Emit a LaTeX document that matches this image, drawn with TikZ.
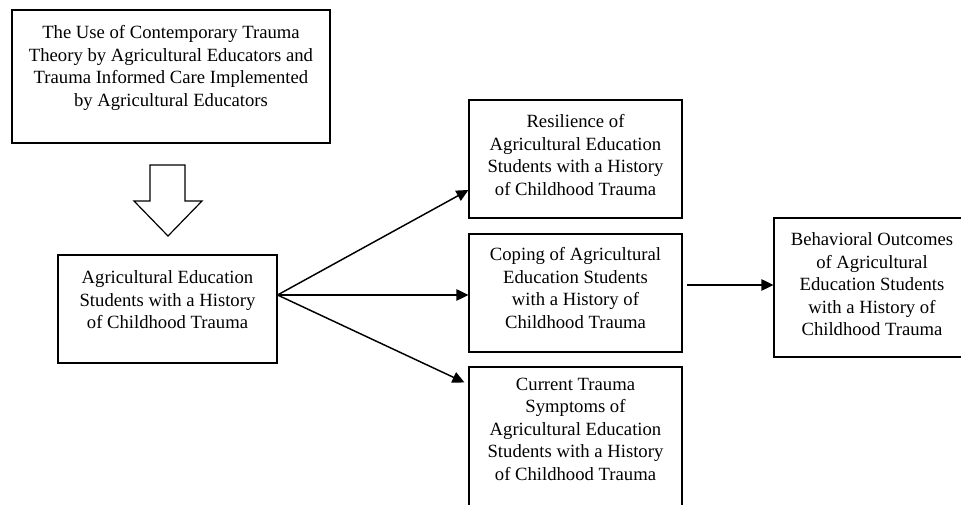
\documentclass[tikz,border=0pt]{standalone}
\usepackage{fontspec}
\setmainfont{Liberation Serif}
\usetikzlibrary{calc,arrows.meta}
\begin{document}
\begin{tikzpicture}[x=0.75pt,y=-0.75pt,
  boxnode/.style={draw, line width=0.8pt, inner sep=0pt, rectangle},
  txt/.style={anchor=north, inner sep=0pt, align=center, font=\fontsize{14}{16.9}\selectfont},
  conn/.style={line width=1.1pt, -{Triangle[length=9pt,width=8.5pt]}}]
\useasboundingbox (0,0) rectangle (961,505);
\clip (0,0) rectangle (961,505);
% boxes
\node[boxnode, minimum width=238.5pt, minimum height=99.75pt] (b1) at (171,76.5) {};
\node[boxnode, minimum width=164.25pt, minimum height=81pt] (b2) at (167.5,309) {};
\node[boxnode, minimum width=159.75pt, minimum height=88.5pt] (b3) at (575.5,159) {};
\node[boxnode, minimum width=159.75pt, minimum height=88.5pt] (b4) at (575.5,293) {};
\node[boxnode, minimum width=159.75pt, minimum height=111pt] (b5) at (575.5,441) {};
\node[boxnode, minimum width=147pt, minimum height=104.25pt] (b6) at (872,287.5) {};
% texts
\node[txt] (t1) at ($(b1.north)+(0,16)$) {The Use of Contemporary Trauma\\Theory by Agricultural Educators and\\Trauma Informed Care Implemented\\by Agricultural Educators};
\node[txt] (t2) at ($(b2.north)+(0,16)$) {Agricultural Education\\Students with a History\\of Childhood Trauma};
\node[txt] (t3) at ($(b3.north)+(0,15)$) {Resilience of\\Agricultural Education\\Students with a History\\of Childhood Trauma};
\node[txt] (t4) at ($(b4.north)+(0,14)$) {Coping of Agricultural\\Education Students\\with a History of\\Childhood Trauma};
\node[txt] (t5) at ($(b5.north)+(0,11)$) {Current Trauma\\Symptoms of\\Agricultural Education\\Students with a History\\of Childhood Trauma};
\node[txt] (t6) at ($(b6.north)+(0,15)$) {Behavioral Outcomes\\of Agricultural\\Education Students\\with a History of\\Childhood Trauma};
% hollow block arrow
\draw[line width=0.9pt, line join=miter] (150,165) -- (185,165) -- (185,201) -- (202,201) -- (168,236) -- (134,201) -- (150,201) -- cycle;
% connectors
\coordinate (src) at ($(b2.east)+(0,-14)$);
\coordinate (cs) at ($(b4.east)+(4,-8)$);
\draw[conn] (src) -- ($(b3.west)+(0,31)$);
\draw[conn] (src) -- (src -| b4.west);
\draw[conn] (src) -- ($(b5.north west)+(-4,16)$);
\draw[conn] (cs) -- (cs -| b6.west);
\end{tikzpicture}
\end{document}
